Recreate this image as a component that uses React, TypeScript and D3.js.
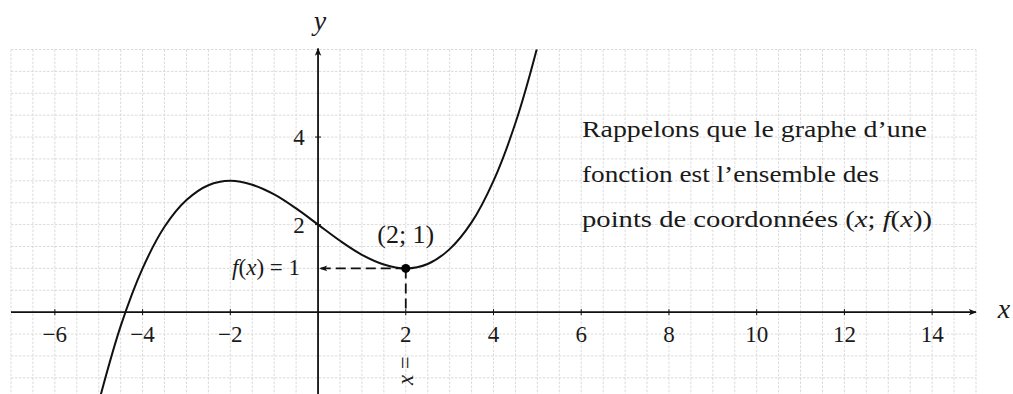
import React from "react";
import * as d3 from "d3";

// Points of the curve y = f(x)
const curveX = [-5, -4.5, -4, -3.5, -3, -2.5, -2, -1.5, -1, -0.5, 0, 0.5, 1, 1.5, 2, 2.5, 3, 3.5, 4, 4.5, 5, 5.2];
const curveY = [-2.06, -0.32, 1, 1.95, 2.56, 2.9, 3, 2.91, 2.69, 2.37, 2, 1.63, 1.31, 1.09, 1, 1.1, 1.44, 2.05, 3, 4.32, 6.06, 6.91];

// Highlighted point and its projections
const pointX = 2;
const pointY = 1;

// Tick labels
const xTicks = [-6, -4, -2, 2, 4, 6, 8, 10, 12, 14];
const yTicks = [2, 4];

const paragraph = [
  "Rappelons que le graphe d\u2019une",
  "fonction est l\u2019ensemble des",
  "points de coordonn\u00e9es ",
];

const W = 1013;
const H = 394;
const serif = "\"Liberation Serif\"";
const ink = "#1a1a1a";

export default function App() {
  const x = d3.scaleLinear().domain([-7, 15]).range([11, 976]);
  const y = d3.scaleLinear().domain([-2, 6]).range([399.7, 49.5]);

  const gridX = d3.range(-7, 15.001, 0.5);
  const gridY = d3.range(-2, 6.001, 0.5);

  const pts: [number, number][] = curveX.map((v, i) => [v, curveY[i]]);
  const line = d3
    .line<[number, number]>()
    .x((d) => x(d[0]))
    .y((d) => y(d[1]))
    .curve(d3.curveCatmullRom.alpha(0.5));

  const x0 = x(0);
  const y0 = y(0);
  const fs = 23;
  const ts = { fontFamily: serif } as React.CSSProperties;

  const minus = (v: number) => (v < 0 ? "\u2212" + Math.abs(v) : String(v));

  return (
    <svg
      width={W}
      height={H}
      style={{ position: "absolute", left: 0, top: 0, background: "#fff", fontFamily: serif }}
    >
      <defs>
        <clipPath id="plot">
          <rect x={x(-7)} y={y(6)} width={x(15) - x(-7)} height={H} />
        </clipPath>
        <marker id="arrow" viewBox="0 0 10 10" refX="9" refY="5" markerWidth="8" markerHeight="8" orient="auto-start-reverse" markerUnits="userSpaceOnUse">
          <path d="M0,1 L10,5 L0,9 L2.5,5 Z" fill="#111" />
        </marker>
        <marker id="arrowSmall" viewBox="0 0 10 10" refX="9" refY="5" markerWidth="9" markerHeight="8" orient="auto" markerUnits="userSpaceOnUse">
          <path d="M0,1.5 L10,5 L0,8.5 L2.5,5 Z" fill="#111" />
        </marker>
      </defs>

      {/* squared paper */}
      <g stroke="#d2d2d2" strokeWidth={0.8} strokeDasharray="2.5 1.5">
        {gridX.map((v) => (
          <line key={"gx" + v} x1={x(v)} x2={x(v)} y1={y(6)} y2={H} />
        ))}
        {gridY.map((v) => (
          <line key={"gy" + v} x1={x(-7)} x2={x(15)} y1={y(v)} y2={y(v)} />
        ))}
      </g>

      {/* axes */}
      <line x1={x(-7)} x2={x(15)} y1={y0} y2={y0} stroke="#111" strokeWidth={1.8} markerEnd="url(#arrow)" />
      <line x1={x0} x2={x0} y1={H} y2={y(6) - 1} stroke="#111" strokeWidth={1.8} markerEnd="url(#arrow)" />
      <g stroke="#111" strokeWidth={1}>
        {xTicks.map((v) => (
          <line key={"tx" + v} x1={x(v)} x2={x(v)} y1={y0 - 3} y2={y0 + 3} />
        ))}
        {yTicks.map((v) => (
          <line key={"ty" + v} x1={x0 - 3} x2={x0 + 3} y1={y(v)} y2={y(v)} />
        ))}
      </g>

      {/* tick labels */}
      <g fontSize={fs} fill={ink} textAnchor="middle">
        {xTicks.map((v) => (
          <text key={"lx" + v} x={x(v)} y={y0 + 30} style={ts}>
            {minus(v)}
          </text>
        ))}
        {yTicks.map((v) => (
          <text key={"ly" + v} x={x0 - 19} y={y(v) + 8} style={ts}>
            {v}
          </text>
        ))}
      </g>

      {/* axis names */}
      <text x={x0 + 2} y={30} fontSize={28} fontStyle="italic" textAnchor="middle" fill={ink} style={ts}>
        y
      </text>
      <text x={1004} y={y0 + 6} fontSize={28} fontStyle="italic" textAnchor="middle" fill={ink} style={ts}>
        x
      </text>

      {/* graph of f */}
      <path d={line(pts) ?? ""} fill="none" stroke="#111" strokeWidth={2} clipPath="url(#plot)" />

      {/* projections of (2; 1) */}
      <line
        x1={x(pointX)}
        x2={x0 + 2}
        y1={y(pointY)}
        y2={y(pointY)}
        stroke="#111"
        strokeWidth={1.8}
        strokeDasharray="10 5"
        markerEnd="url(#arrowSmall)"
      />
      <line
        x1={x(pointX)}
        x2={x(pointX)}
        y1={y(pointY)}
        y2={y0}
        stroke="#111"
        strokeWidth={1.8}
        strokeDasharray="10 5"
      />
      <circle cx={x(pointX)} cy={y(pointY)} r={4.5} fill="#000" />

      {/* annotations */}
      <text x={x(pointX)} y={y(pointY) - 25} fontSize={26} textAnchor="middle" fill={ink} style={ts}>
        (2; 1)
      </text>
      <text x={x0 - 18} y={y(pointY) + 7} fontSize={23} textAnchor="end" fill={ink} style={ts}>
        <tspan fontStyle="italic">f</tspan>(<tspan fontStyle="italic">x</tspan>) = 1
      </text>
      <text
        transform={`translate(${x(pointX) + 7},${y0 + 44}) rotate(-90)`}
        fontSize={fs}
        textAnchor="end"
        fill={ink}
        style={ts}
      >
        <tspan fontStyle="italic">x</tspan> =
      </text>

      {/* explanatory paragraph */}
      <g fontSize={23} fill={ink}>
        <text x={582} y={137} textLength={345} lengthAdjust="spacingAndGlyphs" style={ts}>
          {paragraph[0]}
        </text>
        <text x={582} y={182} textLength={297} lengthAdjust="spacingAndGlyphs" style={ts}>
          {paragraph[1]}
        </text>
        <text x={582} y={227} textLength={350} lengthAdjust="spacingAndGlyphs" style={ts}>
          {paragraph[2]}(<tspan fontStyle="italic">x</tspan>; <tspan fontStyle="italic">f</tspan>(<tspan fontStyle="italic">x</tspan>))
        </text>
      </g>
    </svg>
  );
}
